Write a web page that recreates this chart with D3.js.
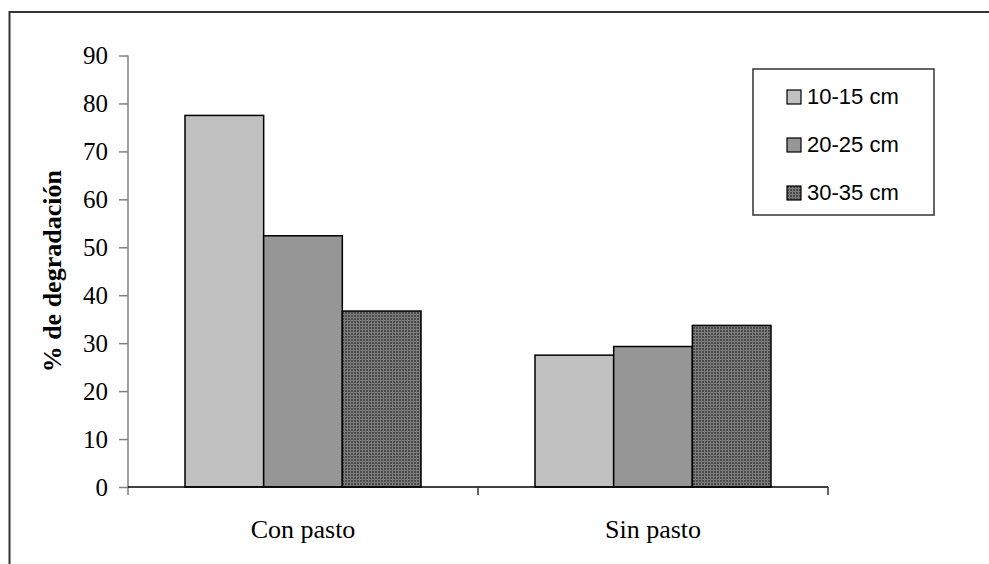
<!DOCTYPE html>
<html lang="es">
<head>
<meta charset="UTF-8">
<title>% de degradación</title>
<script src="https://d3js.org/d3.v7.min.js"></script>
<style>
  body { margin: 0; background: #fff; }
</style>
</head>
<body>
<script>
  // datos
  const categories = ["Con pasto", "Sin pasto"];
  const series = ["10-15 cm", "20-25 cm", "30-35 cm"];
  const valuesConPasto = [77.5, 52.4, 36.7];
  const valuesSinPasto = [27.5, 29.3, 33.7];
  const yTicks = [0, 10, 20, 30, 40, 50, 60, 70, 80, 90];

  const rows = categories.map((c, i) => ({
    cat: c,
    vals: (i === 0 ? valuesConPasto : valuesSinPasto)
  }));

  const serif = "'Liberation Serif', 'Times New Roman', serif";
  const sans = "'Liberation Sans', Arial, sans-serif";

  const width = 989, height = 564;
  const svg = d3.select("body").append("svg")
      .attr("width", width)
      .attr("height", height);

  // patron de la tercera serie
  const defs = svg.append("defs");
  const pat = defs.append("pattern")
      .attr("id", "grid")
      .attr("width", 3).attr("height", 3)
      .attr("patternUnits", "userSpaceOnUse");
  pat.append("rect").attr("width", 3).attr("height", 3).attr("fill", "#7c7c7c");
  pat.append("rect").attr("width", 2).attr("height", 2).attr("fill", "#4a4a4a");

  const fills = ["#c0c0c0", "#969696", "url(#grid)"];

  // marco exterior
  svg.append("rect")
      .attr("x", 9.5).attr("y", 12)
      .attr("width", 1000).attr("height", 600)
      .attr("fill", "none")
      .attr("stroke", "#333")
      .attr("stroke-width", 2);

  const mLeft = 128, mRight = 828, mTop = 55.5, mBottom = 487;

  const x = d3.scaleBand().domain(categories).range([mLeft, mRight]);
  const x1 = d3.scaleBand().domain(series).range([57, 350 - 57]);
  const y = d3.scaleLinear().domain([0, 90]).range([mBottom, mTop]);

  // barras
  const g = svg.append("g");
  rows.forEach(r => {
    g.selectAll(null)
      .data(r.vals)
      .enter().append("rect")
      .attr("x", (d, i) => x(r.cat) + x1(series[i]))
      .attr("y", d => y(d))
      .attr("width", x1.bandwidth())
      .attr("height", d => y(0) - y(d))
      .attr("fill", (d, i) => fills[i])
      .attr("stroke", "#000")
      .attr("stroke-width", 1.5);
  });

  // eje y
  const yAxis = svg.append("g")
      .attr("transform", `translate(${mLeft},0)`)
      .call(d3.axisLeft(y).tickValues(yTicks).tickSize(9).tickPadding(11).tickSizeOuter(0));
  yAxis.select(".domain").attr("stroke", "#808080").attr("stroke-width", 1.5)
      .attr("d", `M0,${mTop}V${mBottom + 8}`);
  yAxis.selectAll(".tick line").attr("stroke", "#808080").attr("stroke-width", 1.5);
  yAxis.selectAll(".tick text")
      .attr("font-family", serif)
      .attr("font-size", 25)
      .attr("fill", "#000");

  // eje x
  const xAxis = svg.append("g")
      .attr("transform", `translate(0,${mBottom})`);
  xAxis.append("line")
      .attr("x1", x.range()[0]).attr("x2", x.range()[1])
      .attr("stroke", "#000").attr("stroke-width", 1.5);
  xAxis.selectAll(".sep")
      .data(categories)
      .enter().append("line")
      .attr("x1", d => x(d) + x.bandwidth())
      .attr("x2", d => x(d) + x.bandwidth())
      .attr("y1", 0).attr("y2", 8)
      .attr("stroke", "#333").attr("stroke-width", 1.5);
  xAxis.selectAll(".lbl")
      .data(categories)
      .enter().append("text")
      .attr("x", d => x(d) + x.bandwidth() / 2)
      .attr("y", 51)
      .attr("text-anchor", "middle")
      .attr("font-family", serif)
      .attr("font-size", 26)
      .text(d => d);

  // titulo eje y
  svg.append("text")
      .attr("transform", `translate(61,${(mTop + mBottom) / 2}) rotate(-90)`)
      .attr("text-anchor", "middle")
      .attr("font-family", serif)
      .attr("font-weight", "bold")
      .attr("font-size", 26)
      .text("% de degradación");

  // leyenda
  const leg = svg.append("g").attr("transform", "translate(753,69)");
  leg.append("rect")
      .attr("width", 181).attr("height", 146)
      .attr("fill", "#fff")
      .attr("stroke", "#333").attr("stroke-width", 1.5);
  const item = leg.selectAll(".item")
      .data(series)
      .enter().append("g")
      .attr("transform", (d, i) => `translate(34,${21 + i * 48})`);
  item.append("rect")
      .attr("width", 14).attr("height", 14)
      .attr("fill", (d, i) => fills[i])
      .attr("stroke", "#000").attr("stroke-width", 1.2);
  item.append("text")
      .attr("x", 20).attr("y", 14)
      .attr("font-family", sans)
      .attr("font-size", 22)
      .text(d => d);
</script>
</body>
</html>
